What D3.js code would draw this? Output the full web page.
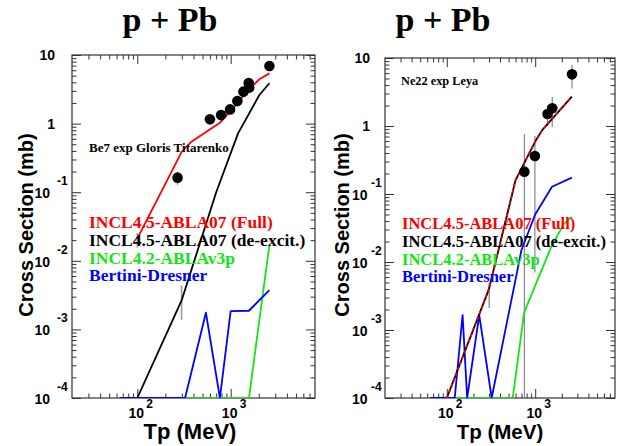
<!DOCTYPE html>
<html><head><meta charset="utf-8">
<script src="https://cdn.jsdelivr.net/npm/d3@7"></script>
<style>body{margin:0;background:#fff}svg{display:block}</style>
</head><body>
<svg id="c" width="623" height="446"></svg>
<script>
// ---------- shared axis settings ----------
const energyDomain = [20, 8000];          // Tp (MeV)
const xsDomain = [1e-4, 10];              // cross section (mb)
const xMajorTicks = [100, 1000];
const xTickExps = ["2", "3"];
const yMajorTicks = [1e-4, 1e-3, 1e-2, 1e-1, 1, 10];
const yTickExps = ["-4", "-3", "-2", "-1", "", ""];
const seriesNames = ["INCL4.5-ABLA07 (Full)", "INCL4.5-ABLA07 (de-excit.)", "INCL4.2-ABLAv3p", "Bertini-Dresner"];
const seriesColors = ["#ff0000", "#000000", "#11e611", "#0000ff"];

// ---------- left panel : Be7 ----------
const leftLabel = "Be7 exp Gloris Titarenko";
const leftExpE   = [270, 600, 790, 985, 1180, 1370, 1560, 1580, 2600];
const leftExpXS  = [0.163, 1.16, 1.33, 1.61, 2.14, 2.92, 3.9, 3.35, 6.9];
const leftExpErr = [0.035, 0.19, 0.15, 0.2, 0.4, 0.3, 0.5, 0.4, 0.6];
const leftFullE   = [100, 300, 380, 575, 770, 985, 1610, 2030, 2600];
const leftFullXS  = [0.021, 0.39, 0.545, 0.79, 1.03, 1.49, 3.27, 4.43, 5.4];
const leftDeexE   = [100, 300, 700, 1200, 2030, 2600];
const leftDeexXS  = [1e-4, 0.0027, 0.1, 0.72, 2.61, 3.87];
const leftIncl42E  = [65, 1570, 2600];
const leftIncl42XS = [1e-4, 1e-4, 0.017];
const leftBertE  = [65, 325, 543, 767, 1000, 1570, 2600];
const leftBertXS = [1e-4, 1e-4, 0.00175, 1e-4, 0.00185, 0.00187, 0.00375];
const leftModelErrE  = [100, 298];
const leftModelErrLo = [0.0156, 0.00137];
const leftModelErrHi = [0.0254, 0.0044];

// ---------- right panel : Ne22 ----------
const rightLabel = "Ne22 exp Leya";
const rightExpE   = [755, 993, 1380, 1560, 2610];
const rightExpXS  = [0.213, 0.362, 1.5, 1.82, 5.75];
const rightExpErr = [0.55, 0.355, 0.5, 0.85, 2.2];
const rightFullE   = [100, 300, 600, 1000, 1200, 2600];
const rightFullXS  = [1e-4, 0.004, 0.16, 0.59, 0.87, 2.7];
const rightDeexE   = [100, 300, 600, 1000, 1200, 2600];
const rightDeexXS  = [1e-4, 0.004, 0.16, 0.59, 0.87, 2.7];
const rightIncl42E  = [65, 557, 750, 1000, 1500, 2100, 2600];
const rightIncl42XS = [1e-4, 1e-4, 0.0018, 0.0045, 0.016, 0.036, 0.046];
const rightBertE  = [65, 123, 151, 170, 233, 322, 700, 1000, 1550, 2600];
const rightBertXS = [1e-4, 1e-4, 0.00166, 1e-4, 0.00166, 1e-4, 0.015, 0.05, 0.128, 0.174];
const rightModelErrE  = [302];
const rightModelErrLo = [0.0021];
const rightModelErrHi = [0.0049];

const SANS = "'Liberation Sans', Arial, sans-serif";
const SERIF = "'Liberation Serif', 'Times New Roman', serif";

const zip = (a, b) => a.map((v, i) => [v, b[i]]);

const panels = [
  { id: "L", x0: 72, x1: 315, y0: 55, y1: 398,
    title: "p + Pb", titleX: 170, label: leftLabel, labelX: 89, labelY: 152, labelSize: 13,
    legX: 89, legY: [228, 245.5, 264, 281], legSize: 17.5,
    yTitleX: 33, xTitleX: 190, xTitleSize: 22, yTitleSize: 20,
    yLab10End: 55, yLabNegEnd: 50, yLabSupStart: 57,
    exp: leftExpE.map((e, i) => ({ e, v: leftExpXS[i], err: leftExpErr[i] })),
    series: [zip(leftFullE, leftFullXS), zip(leftDeexE, leftDeexXS), zip(leftIncl42E, leftIncl42XS), zip(leftBertE, leftBertXS)],
    modelErr: leftModelErrE.map((e, i) => ({ e, lo: leftModelErrLo[i], hi: leftModelErrHi[i] })),
    overlayDash: false },
  { id: "R", x0: 385, x1: 615, y0: 58, y1: 398,
    title: "p + Pb", titleX: 443, label: rightLabel, labelX: 401, labelY: 85, labelSize: 12.3,
    legX: 402, legY: [229, 246.5, 265, 281.7], legSize: 16.5,
    yTitleX: 349, xTitleX: 500, xTitleSize: 20.5, yTitleSize: 20,
    yLab10End: 370, yLabNegEnd: 367.5, yLabSupStart: 371,
    exp: rightExpE.map((e, i) => ({ e, v: rightExpXS[i], err: rightExpErr[i] })),
    series: [zip(rightFullE, rightFullXS), zip(rightDeexE, rightDeexXS), zip(rightIncl42E, rightIncl42XS), zip(rightBertE, rightBertXS)],
    modelErr: rightModelErrE.map((e, i) => ({ e, lo: rightModelErrLo[i], hi: rightModelErrHi[i] })),
    overlayDash: true }
];

const svg = d3.select("#c");

function minorTicks(lo, hi) {
  const out = [];
  for (let d = Math.floor(Math.log10(lo)); d <= Math.ceil(Math.log10(hi)); d++) {
    for (let m = 2; m <= 9; m++) {
      const v = m * Math.pow(10, d);
      if (v > lo * 1.0001 && v < hi * 0.9999) out.push(v);
    }
  }
  return out;
}

panels.forEach(p => {
  const x = d3.scaleLog().domain(energyDomain).range([p.x0, p.x1]);
  const y = d3.scaleLog().domain(xsDomain).range([p.y1, p.y0]).clamp(true);
  const g = svg.append("g");

  // clip
  const clipId = "clip" + p.id;
  svg.append("clipPath").attr("id", clipId).append("rect")
    .attr("x", p.x0).attr("y", p.y0 - 1).attr("width", p.x1 - p.x0).attr("height", p.y1 - p.y0 + 1);

  // ticks via d3 axes (inward)
  const xMinor = minorTicks(energyDomain[0], energyDomain[1]);
  const yMinor = minorTicks(xsDomain[0], xsDomain[1]);
  const axes = [
    [d3.axisBottom(x), `translate(0,${p.y1})`, xMinor, xMajorTicks],
    [d3.axisTop(x), `translate(0,${p.y0})`, xMinor, xMajorTicks],
    [d3.axisLeft(y), `translate(${p.x0},0)`, yMinor, yMajorTicks],
    [d3.axisRight(y), `translate(${p.x1},0)`, yMinor, yMajorTicks]
  ];
  axes.forEach(([ax, tr, minor, major]) => {
    [[minor, 4.5], [major, 9]].forEach(([vals, len]) => {
      const a = g.append("g").attr("transform", tr)
        .call(ax.tickValues(vals).tickSize(-len).tickFormat(""));
      a.select(".domain").remove();
      a.selectAll("line").attr("stroke", "#333").attr("stroke-width", 1);
    });
  });
  g.append("rect").attr("x", p.x0).attr("y", p.y0).attr("width", p.x1 - p.x0).attr("height", p.y1 - p.y0)
    .attr("fill", "none").attr("stroke", "#333").attr("stroke-width", 1.2);

  // y tick labels
  yMajorTicks.forEach((v, i) => {
    const yy = y(v);
    if (v === 10) {
      g.append("text").attr("x", p.yLab10End).attr("y", yy + 5).attr("text-anchor", "end")
        .attr("font-family", SANS).attr("font-weight", "bold").attr("font-size", 14).text("10");
    } else if (v === 1) {
      g.append("text").attr("x", p.yLab10End).attr("y", yy + 5).attr("text-anchor", "end")
        .attr("font-family", SANS).attr("font-weight", "bold").attr("font-size", 14).text("1");
    } else {
      g.append("text").attr("x", p.yLabNegEnd).attr("y", yy + 6).attr("text-anchor", "end")
        .attr("font-family", SANS).attr("font-weight", "bold").attr("font-size", 14).text("10");
      g.append("text").attr("x", p.yLabSupStart).attr("y", yy - 7)
        .attr("font-family", SANS).attr("font-weight", "bold").attr("font-size", 12).text(yTickExps[i]);
    }
  });
  // x tick labels
  xMajorTicks.forEach((v, i) => {
    const xx = x(v);
    g.append("text").attr("x", xx - 1).attr("y", 418).attr("text-anchor", "middle")
      .attr("font-family", SANS).attr("font-weight", "bold").attr("font-size", 14).text("10");
    g.append("text").attr("x", xx + 9).attr("y", 408)
      .attr("font-family", SANS).attr("font-weight", "bold").attr("font-size", 12).text(xTickExps[i]);
  });

  // titles
  g.append("text").attr("x", p.titleX).attr("y", 31).attr("text-anchor", "middle")
    .attr("font-family", SERIF).attr("font-weight", "bold").attr("font-size", 34).text(p.title);
  g.append("text").attr("transform", `translate(${p.yTitleX},${225}) rotate(-90)`).attr("text-anchor", "middle")
    .attr("font-family", SANS).attr("font-weight", "bold").attr("font-size", p.yTitleSize).text("Cross Section (mb)");
  g.append("text").attr("x", p.xTitleX).attr("y", 439).attr("text-anchor", "middle")
    .attr("font-family", SANS).attr("font-weight", "bold").attr("font-size", p.xTitleSize).text("Tp (MeV)");

  // plot content
  const pg = g.append("g").attr("clip-path", `url(#${clipId})`);
  const line = d3.line().x(d => x(d[0])).y(d => y(d[1]));

  // model error bars
  pg.selectAll(".merr").data(p.modelErr).join("line")
    .attr("x1", d => x(d.e)).attr("x2", d => x(d.e))
    .attr("y1", d => y(d.lo)).attr("y2", d => y(d.hi))
    .attr("stroke", "#999").attr("stroke-width", 1.5);

  // exp error bars
  pg.selectAll(".eerr").data(p.exp).join("line")
    .attr("x1", d => x(d.e)).attr("x2", d => x(d.e))
    .attr("y1", d => y(Math.max(d.v - d.err, 1e-6))).attr("y2", d => y(d.v + d.err))
    .attr("stroke", "#888").attr("stroke-width", 1.2);

  // series: green, blue, then black, red
  const order = [2, 3, 1, 0];
  order.forEach(k => {
    const path = pg.append("path").datum(p.series[k]).attr("d", line)
      .attr("fill", "none").attr("stroke", seriesColors[k]).attr("stroke-width", 1.8)
      .attr("stroke-linejoin", "round");
    if (p.overlayDash && k === 0) path.attr("stroke-dasharray", "3,3");
  });

  // exp points
  pg.selectAll(".pt").data(p.exp).join("circle")
    .attr("cx", d => x(d.e)).attr("cy", d => y(d.v)).attr("r", 5.3).attr("fill", "#000");

  // label
  g.append("text").attr("x", p.labelX).attr("y", p.labelY)
    .attr("font-family", SERIF).attr("font-weight", "bold").attr("font-size", p.labelSize).text(p.label);

  // legend
  seriesNames.forEach((n, k) => {
    g.append("text").attr("x", p.legX).attr("y", p.legY[k]).attr("fill", seriesColors[k])
      .attr("font-family", SERIF).attr("font-weight", "bold").attr("font-size", p.legSize).text(n);
  });
});
</script>
</body></html>
